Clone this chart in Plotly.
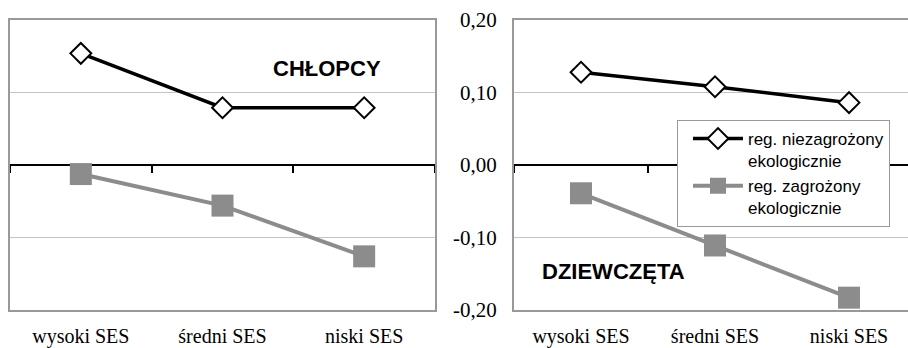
import plotly.graph_objects as go

# SES groups on the x axis
categories = ["wysoki SES", "średni SES", "niski SES"]

# Boys (CHŁOPCY)
boys_safe = [0.154, 0.079, 0.079]
boys_threat = [-0.0125, -0.056, -0.126]

# Girls (DZIEWCZĘTA)
girls_safe = [0.128, 0.108, 0.086]
girls_threat = [-0.039, -0.111, -0.183]

series_names = ["reg. niezagrożony<br>ekologicznie", "reg. zagrożony<br>ekologicznie"]
y_tickvals = [-0.2, -0.1, 0.0, 0.1, 0.2]
y_ticktext = ["-0,20", "-0,10", "0,00", "0,10", "0,20"]

W, H = 908, 348
BORDER = "#999999"
GRID = "#c4c4c4"
GRAY = "#8c8c8c"
SERIF = "Liberation Serif, Times New Roman, serif"
SANS = "Liberation Sans, Arial, sans-serif"

xs = list(range(len(categories)))
bounds = [i - 0.5 for i in range(len(categories) + 1)]

fig = go.Figure()

def add_panel(xa, ya, safe, threat, show_legend):
    fig.add_trace(go.Scatter(
        x=xs, y=safe, xaxis=xa, yaxis=ya, mode="lines+markers",
        name=series_names[0], legendgroup="safe", showlegend=show_legend,
        line=dict(color="black", width=3.5),
        marker=dict(symbol="diamond", size=16, color="white",
                    line=dict(color="black", width=2)),
    ))
    fig.add_trace(go.Scatter(
        x=xs, y=threat, xaxis=xa, yaxis=ya, mode="lines+markers",
        name=series_names[1], legendgroup="threat", showlegend=show_legend,
        line=dict(color=GRAY, width=4),
        marker=dict(symbol="square", size=22, color=GRAY, line=dict(width=0)),
    ))

add_panel("x", "y", boys_safe, boys_threat, False)
add_panel("x2", "y2", girls_safe, girls_threat, True)

# empty traces so the zero-line axes get their own subplots
for xa, ya in (("x3", "y"), ("x4", "y2")):
    fig.add_trace(go.Scatter(x=[None], y=[None], xaxis=xa, yaxis=ya,
                             mode="lines", showlegend=False, hoverinfo="skip"))

ydom = [(H - 310) / H, (H - 20) / H]
zero_pos = (ydom[0] + ydom[1]) / 2

common_x = dict(
    tickvals=xs, ticktext=categories, ticks="", showgrid=False, zeroline=False,
    showline=True, linecolor=BORDER, linewidth=2, automargin=False,
    tickfont=dict(family=SERIF, size=20, color="black"), ticklabelstandoff=7,
)
common_y = dict(
    range=[-0.2, 0.2], domain=ydom, tickvals=y_tickvals, ticktext=y_ticktext,
    ticks="", showgrid=True, gridcolor=GRID, gridwidth=1, zeroline=False,
    showline=True, linecolor=BORDER, linewidth=2, automargin=False,
    tickfont=dict(family=SERIF, size=21, color="black"),
)
zero_axis = dict(
    anchor="free", position=zero_pos, tickvals=bounds, ticks="outside",
    ticklen=7, tickwidth=2, tickcolor="black", showticklabels=False,
    showline=True, linecolor="black", linewidth=2, showgrid=False,
    zeroline=False, layer="below traces", automargin=False,
)

left_range = [-0.5, 2.5]
right_range = [-0.5, 2.44]

fig.update_layout(
    width=W, height=H, margin=dict(l=0, r=0, t=0, b=0, autoexpand=False),
    paper_bgcolor="white", plot_bgcolor="white",
    xaxis=dict(domain=[10 / W, 435 / W], range=left_range, anchor="y",
               mirror=True, **common_x),
    yaxis=dict(anchor="x", mirror=True, showticklabels=False, **common_y),
    xaxis2=dict(domain=[514 / W, 1.0], range=right_range, anchor="y2",
                mirror=True, **common_x),
    yaxis2=dict(anchor="x2", mirror=False, showticklabels=True,
                ticklabelstandoff=11, **common_y),
    xaxis3=dict(overlaying="x", range=left_range, **zero_axis),
    xaxis4=dict(overlaying="x2", range=right_range, **zero_axis),
    legend=dict(
        x=677 / W, y=(H - 120) / H, xanchor="left", yanchor="top",
        bgcolor="white", bordercolor=BORDER, borderwidth=1,
        font=dict(family=SANS, size=17, color="black"),
        valign="top", itemwidth=50, indentation=10,
        tracegroupgap=0,
    ),
    showlegend=True,
)

fig.add_annotation(x=1.737, y=0.133, xref="x", yref="y", text="<b>CHŁOPCY</b>",
                   showarrow=False, font=dict(family=SANS, size=22, color="black"))
fig.add_annotation(x=0.239, y=-0.147, xref="x2", yref="y2", text="<b>DZIEWCZĘTA</b>",
                   showarrow=False, font=dict(family=SANS, size=22, color="black"))

fig.write_html("out.html")
